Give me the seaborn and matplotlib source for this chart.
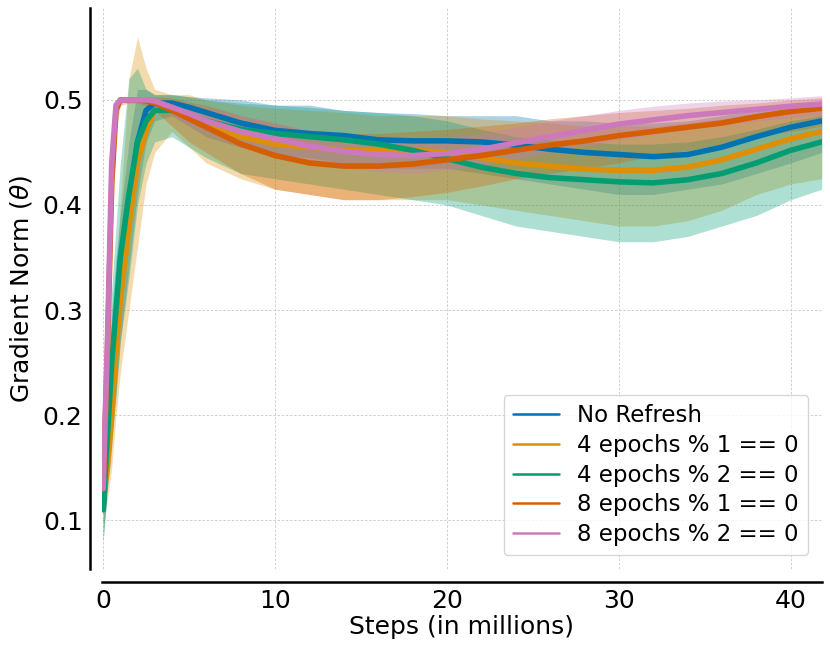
import matplotlib
matplotlib.use("Agg")
import matplotlib.pyplot as plt
import seaborn as sns
import pandas as pd

sns.set_style("white")
plt.rcParams['font.family'] = ['DejaVu Sans']
plt.rcParams.update({"text.color": "black", "axes.labelcolor": "black",
                     "xtick.color": "black", "ytick.color": "black"})

# steps in millions
steps = [0, 0.25, 0.5, 0.75, 1.0, 1.5, 2.0, 2.5, 3.0, 4, 5, 6, 8, 10, 12, 14, 16,
         18, 20, 22, 24, 26, 28, 30, 32, 34, 36, 38, 40, 41.8]

labels = ["No Refresh", "4 epochs % 1 == 0", "4 epochs % 2 == 0",
          "8 epochs % 1 == 0", "8 epochs % 2 == 0"]

# smoothed value, lower and upper edge of the raw noise
no_refresh_mid = [0.11, 0.17, 0.24, 0.29, 0.33, 0.40, 0.46, 0.49, 0.497, 0.497, 0.493, 0.488, 0.478,
                  0.471, 0.468, 0.466, 0.462, 0.461, 0.461, 0.46, 0.457, 0.453, 0.45, 0.448, 0.446,
                  0.448, 0.455, 0.465, 0.474, 0.48]
no_refresh_lo = [0.08, 0.13, 0.17, 0.22, 0.27, 0.34, 0.41, 0.46, 0.48, 0.485, 0.475, 0.465, 0.455,
                 0.448, 0.445, 0.44, 0.435, 0.435, 0.435, 0.43, 0.425, 0.42, 0.415, 0.41, 0.41,
                 0.415, 0.42, 0.43, 0.44, 0.45]
no_refresh_hi = [0.14, 0.22, 0.30, 0.35, 0.39, 0.46, 0.51, 0.51, 0.505, 0.505, 0.503, 0.502, 0.50,
                 0.495, 0.495, 0.49, 0.488, 0.487, 0.485, 0.485, 0.485, 0.48, 0.48, 0.478, 0.478,
                 0.48, 0.485, 0.49, 0.495, 0.498]

e4_1_mid = [0.12, 0.15, 0.20, 0.26, 0.31, 0.38, 0.44, 0.47, 0.49, 0.493, 0.485, 0.478, 0.465,
            0.458, 0.455, 0.452, 0.452, 0.452, 0.45, 0.445, 0.44, 0.437, 0.434, 0.433, 0.433,
            0.436, 0.443, 0.453, 0.463, 0.47]
e4_1_lo = [0.09, 0.12, 0.15, 0.20, 0.24, 0.30, 0.36, 0.42, 0.45, 0.47, 0.455, 0.44, 0.425,
           0.415, 0.41, 0.405, 0.405, 0.405, 0.405, 0.40, 0.395, 0.39, 0.385, 0.38, 0.38,
           0.385, 0.395, 0.41, 0.42, 0.425]
e4_1_hi = [0.16, 0.20, 0.27, 0.33, 0.40, 0.52, 0.56, 0.53, 0.51, 0.505, 0.505, 0.50, 0.495,
           0.492, 0.49, 0.488, 0.485, 0.485, 0.485, 0.482, 0.48, 0.478, 0.475, 0.475, 0.475,
           0.478, 0.482, 0.487, 0.492, 0.495]

e4_2_mid = [0.11, 0.18, 0.25, 0.30, 0.35, 0.41, 0.46, 0.48, 0.49, 0.49, 0.485, 0.48, 0.472,
            0.468, 0.465, 0.462, 0.458, 0.452, 0.444, 0.436, 0.43, 0.426, 0.424, 0.422, 0.421,
            0.424, 0.43, 0.44, 0.452, 0.46]
e4_2_lo = [0.08, 0.13, 0.18, 0.22, 0.27, 0.33, 0.40, 0.44, 0.46, 0.465, 0.455, 0.445, 0.43,
           0.425, 0.42, 0.415, 0.41, 0.405, 0.40, 0.39, 0.38, 0.375, 0.37, 0.365, 0.365,
           0.37, 0.38, 0.39, 0.405, 0.415]
e4_2_hi = [0.15, 0.24, 0.32, 0.38, 0.44, 0.52, 0.53, 0.51, 0.505, 0.505, 0.503, 0.50, 0.497,
           0.495, 0.493, 0.49, 0.488, 0.485, 0.48, 0.472, 0.465, 0.462, 0.46, 0.458, 0.458,
           0.46, 0.465, 0.472, 0.48, 0.485]

e8_1_mid = [0.13, 0.26, 0.42, 0.49, 0.50, 0.50, 0.50, 0.499, 0.497, 0.49, 0.482, 0.474, 0.458,
            0.447, 0.44, 0.437, 0.437, 0.439, 0.443, 0.447, 0.452, 0.457, 0.461, 0.466, 0.47,
            0.474, 0.478, 0.484, 0.489, 0.492]
e8_1_lo = [0.11, 0.20, 0.36, 0.47, 0.495, 0.497, 0.497, 0.494, 0.49, 0.475, 0.46, 0.45, 0.43,
           0.415, 0.41, 0.405, 0.405, 0.408, 0.412, 0.418, 0.425, 0.43, 0.435, 0.44, 0.447,
           0.452, 0.458, 0.465, 0.47, 0.475]
e8_1_hi = [0.16, 0.32, 0.47, 0.50, 0.502, 0.502, 0.502, 0.503, 0.503, 0.502, 0.498, 0.495, 0.485,
           0.478, 0.47, 0.468, 0.468, 0.47, 0.472, 0.475, 0.478, 0.482, 0.485, 0.488, 0.49,
           0.492, 0.495, 0.497, 0.50, 0.502]

e8_2_mid = [0.13, 0.27, 0.44, 0.495, 0.50, 0.50, 0.50, 0.50, 0.499, 0.493, 0.487, 0.48, 0.47,
            0.463, 0.456, 0.451, 0.448, 0.447, 0.449, 0.453, 0.459, 0.465, 0.471, 0.477, 0.481,
            0.485, 0.488, 0.491, 0.494, 0.496]
e8_2_lo = [0.12, 0.22, 0.40, 0.49, 0.498, 0.498, 0.498, 0.497, 0.495, 0.485, 0.475, 0.467, 0.455,
           0.447, 0.44, 0.435, 0.432, 0.43, 0.433, 0.437, 0.443, 0.45, 0.456, 0.462, 0.467,
           0.472, 0.476, 0.48, 0.483, 0.485]
e8_2_hi = [0.15, 0.32, 0.47, 0.50, 0.502, 0.502, 0.502, 0.502, 0.502, 0.50, 0.497, 0.493, 0.485,
           0.478, 0.472, 0.467, 0.465, 0.463, 0.465, 0.468, 0.474, 0.48, 0.485, 0.49, 0.494,
           0.497, 0.499, 0.50, 0.502, 0.504]

runs = [
    (no_refresh_mid, no_refresh_lo, no_refresh_hi),
    (e4_1_mid, e4_1_lo, e4_1_hi),
    (e4_2_mid, e4_2_lo, e4_2_hi),
    (e8_1_mid, e8_1_lo, e8_1_hi),
    (e8_2_mid, e8_2_lo, e8_2_hi),
]
colors = sns.color_palette("colorblind", 5)

fig = plt.figure(figsize=(8.3, 6.55), dpi=100)
ax = fig.add_axes([0.123, 0.131, 0.867, 0.857])

for label, color, (mid, lo, hi) in zip(labels, colors, runs):
    d = pd.DataFrame({"step": steps * 3, "norm": lo + mid + hi})
    sns.lineplot(data=d, x="step", y="norm", estimator="median", errorbar=("pi", 100),
                 color=color, lw=4, label=label, err_kws={"alpha": 0.32, "lw": 0}, ax=ax)

ax.set_xlim(-0.06, 41.8)
ax.set_ylim(0.0533, 0.5876)
ax.set_xticks([0, 10, 20, 30, 40])
ax.set_yticks([0.1, 0.2, 0.3, 0.4, 0.5])
ax.grid(True, ls=(0, (3, 2)), color="#c8c8c8", lw=0.6)
ax.tick_params(length=0, labelsize=18, pad=5)

for side in ["top", "right"]:
    ax.spines[side].set_visible(False)
for side in ["left", "bottom"]:
    ax.spines[side].set_position(("outward", 9))
    ax.spines[side].set_linewidth(1.8)
    ax.spines[side].set_color("black")

ax.set_xlabel("Steps (in millions)", fontsize=18, labelpad=2)
ax.set_ylabel(r"Gradient Norm ($\theta$)", fontsize=18, labelpad=6)

leg = ax.legend(loc="lower right", fontsize=16.5, labelspacing=0.3, frameon=True,
                borderaxespad=0.6)
for line in leg.get_lines():
    line.set_linewidth(1.8)

fig.savefig("out.png", dpi=100)
